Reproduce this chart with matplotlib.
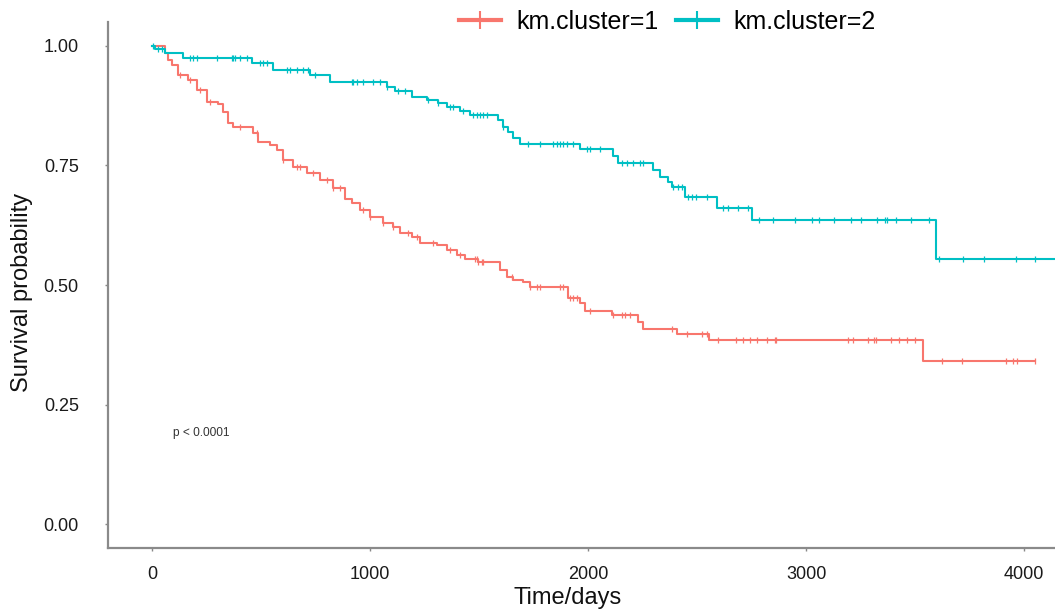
import matplotlib.pyplot as plt
import numpy as np

plt.rcParams['font.family'] = ['Liberation Sans', 'DejaVu Sans']

# step curves: event times (days) and survival just after each event
c1_times = [0, 60, 73, 92, 119, 165, 206, 252, 303, 326, 349, 372, 463, 486, 541, 573,
            601, 647, 711, 771, 830, 885, 917, 954, 1000, 1060, 1106, 1138, 1193, 1229,
            1307, 1353, 1399, 1436, 1495, 1596, 1628, 1656, 1702, 1734, 1908, 1963, 1986,
            2110, 2229, 2252, 2408, 2555, 3537]
c1_surv = [1.0, 0.985, 0.97, 0.96, 0.94, 0.929, 0.908, 0.883, 0.878, 0.862, 0.839, 0.831,
           0.818, 0.80, 0.793, 0.782, 0.762, 0.747, 0.734, 0.72, 0.703, 0.68, 0.672, 0.657,
           0.642, 0.63, 0.621, 0.609, 0.60, 0.588, 0.584, 0.573, 0.563, 0.554, 0.548,
           0.531, 0.517, 0.51, 0.506, 0.496, 0.473, 0.462, 0.446, 0.437, 0.423, 0.408,
           0.397, 0.385, 0.341]
c1_end = 4050
c1_censor = [128, 174, 220, 266, 404, 482, 601, 665, 679, 739, 803, 830, 862, 968, 1000,
             1060, 1106, 1174, 1216, 1289, 1367, 1413, 1482, 1491, 1495, 1514, 1518, 1651,
             1734, 1766, 1780, 1872, 1885, 1917, 1931, 1950, 2009, 2115, 2156, 2170, 2193,
             2385, 2454, 2523, 2546, 2596, 2679, 2711, 2743, 2775, 2821, 2858, 2862, 3193,
             3216, 3284, 3312, 3321, 3390, 3427, 3463, 3500, 3624, 3716, 3917, 3950, 3968,
             4050]

c2_times = [0, 14, 60, 142, 459, 555, 725, 817, 1078, 1115, 1193, 1261, 1312, 1353, 1413,
            1459, 1587, 1610, 1633, 1656, 1688, 1963, 2115, 2138, 2298, 2330, 2367, 2385,
            2445, 2592, 2752, 3596]
c2_surv = [1.0, 0.993, 0.985, 0.975, 0.964, 0.95, 0.94, 0.925, 0.915, 0.905, 0.893, 0.887,
           0.88, 0.872, 0.864, 0.856, 0.845, 0.83, 0.82, 0.808, 0.795, 0.785, 0.77, 0.755,
           0.74, 0.725, 0.715, 0.705, 0.685, 0.662, 0.635, 0.555]
c2_end = 4200
c2_censor = [5, 28, 46, 174, 188, 206, 298, 367, 372, 381, 404, 436, 495, 509, 528, 619,
             633, 665, 693, 716, 748, 917, 922, 940, 968, 1014, 1046, 1078, 1128, 1161,
             1266, 1312, 1367, 1381, 1427, 1472, 1491, 1505, 1518, 1537, 1610, 1725, 1780,
             1839, 1858, 1872, 1885, 1904, 1931, 1995, 2009, 2055, 2156, 2179, 2206, 2239,
             2252, 2390, 2413, 2431, 2459, 2477, 2495, 2546, 2619, 2642, 2688, 2734, 2784,
             2849, 2950, 3028, 3060, 3128, 3206, 3252, 3326, 3362, 3372, 3413, 3482, 3564,
             3610, 3720, 3817, 3963, 4050]

labels = ['km.cluster=1', 'km.cluster=2']
colors = ['#F8766D', '#00BFC4']

fig = plt.figure(figsize=(10.55, 6.11), dpi=100)
ax = fig.add_axes([108 / 1055, 1 - 548 / 611, 1 - 108 / 1055, (548 - 22) / 611])

curves = [(c1_times, c1_surv, c1_end, c1_censor), (c2_times, c2_surv, c2_end, c2_censor)]
handles = []
for (t, s, end, cens), lab, col in zip(curves, labels, colors):
    t = np.array(t + [end])
    s = np.array(s + [s[-1]])
    ax.step(t, s, where='post', color=col, lw=1.5)
    idx = np.searchsorted(t, cens, side='right') - 1
    ax.plot(cens, s[idx], ls='none', marker='|', ms=4.5, mew=0.9, color=col)
    h, = ax.plot([], [], color=col, lw=3, marker='|', ms=13, mew=1.5, label=lab)
    handles.append(h)

ax.text(96, 0.19, 'p < 0.0001', fontsize=8.6, color='#333333', ha='left', va='center')

ax.set_xlim(-202, 4142)
ax.set_ylim(-0.05, 1.05)
ax.set_xticks([0, 1000, 2000, 3000, 4000])
ax.set_yticks([0, 0.25, 0.5, 0.75, 1.0])
ax.set_yticklabels(['0.00', '0.25', '0.50', '0.75', '1.00'])
ax.tick_params(labelsize=13, labelcolor='#1a1a1a', color='#888888', length=2, width=1)
ax.tick_params(axis='y', pad=19)
ax.tick_params(axis='x', pad=11)
for side in ['top', 'right']:
    ax.spines[side].set_visible(False)
for side in ['left', 'bottom']:
    ax.spines[side].set_color('#8a8a8a')
    ax.spines[side].set_linewidth(1.6)

ax.set_xlabel('Time/days', fontsize=17, color='#111111')
ax.set_ylabel('Survival probability', fontsize=17, color='#111111')
ax.xaxis.set_label_coords(0.485, -0.074)
ax.yaxis.set_label_coords(-0.079, 0.485)

fig.legend(handles=handles, loc='center', bbox_to_anchor=(667 / 1055, 1 - 22 / 611),
           ncol=2, frameon=False, fontsize=18, handlelength=1.7, columnspacing=0.7,
           handletextpad=0.6)

fig.savefig('out.png', dpi=100)
